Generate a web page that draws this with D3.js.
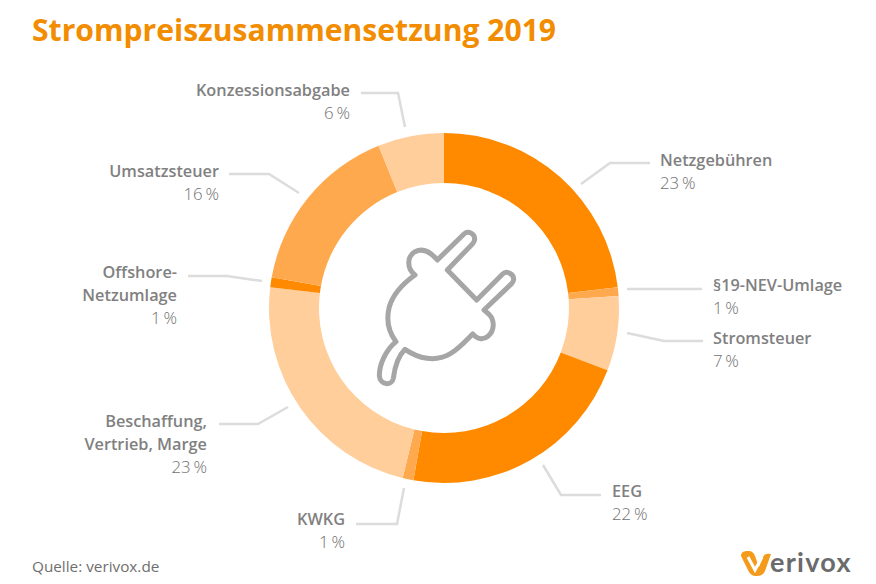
<!DOCTYPE html>
<html lang="de">
<head>
<meta charset="utf-8">
<title>Strompreiszusammensetzung 2019</title>
<script src="https://cdn.jsdelivr.net/npm/d3@7/dist/d3.min.js"></script>
<style>
  html, body { margin: 0; padding: 0; background: #fff; }
  svg { display: block; }
  text { font-family: "Open Sans", sans-serif; }
  .name { font-size: 16.3px; font-weight: 600; fill: #7f7f7f; }
  .share { font-size: 16.8px; font-weight: 300; fill: #6f6f6f; }
</style>
</head>
<body>
<div id="chart"></div>
<script>
// Data
const categories = ["Netzgebühren", "§19-NEV-Umlage", "Stromsteuer", "EEG", "KWKG",
  "Beschaffung, Vertrieb, Marge", "Offshore-Netzumlage", "Umsatzsteuer", "Konzessionsabgabe"];
// printed percentages
const shareLabels = [23, 1, 7, 22, 1, 23, 1, 16, 6];
// slice sizes as measured from the ring, the printed numbers are rounded
const shares = [23.1, 0.8, 6.9, 22, 1, 23.1, 0.9, 16.1, 6.1];
const labelLines = [["Netzgebühren"], ["§19-NEV-Umlage"], ["Stromsteuer"], ["EEG"], ["KWKG"],
  ["Beschaffung,", "Vertrieb, Marge"], ["Offshore-", "Netzumlage"], ["Umsatzsteuer"], ["Konzessionsabgabe"]];

// Layout, by category
const sliceColors = ["#ff8a00", "#ffa94f", "#ffce9b", "#ff8a00", "#ffa94f", "#ffce9b", "#ff8a00", "#ffa94f", "#ffce9b"];
const labelPos = [
  {x: 660, y: 166, anchor: "start"},
  {x: 713, y: 291, anchor: "start"},
  {x: 713, y: 344, anchor: "start"},
  {x: 612, y: 497, anchor: "start"},
  {x: 345, y: 525, anchor: "end"},
  {x: 207, y: 427, anchor: "end"},
  {x: 177, y: 278, anchor: "end"},
  {x: 219, y: 177, anchor: "end"},
  {x: 350, y: 96, anchor: "end"}
];
const leaders = [
  [[581, 184], [610, 163], [650, 163]],
  [[627, 289], [702, 289]],
  [[627, 333], [664, 341], [703, 341]],
  [[543, 465], [561, 495], [601, 495]],
  [[404, 488], [397, 524], [356, 524]],
  [[288, 407], [258, 424], [219, 424]],
  [[262, 281], [227, 276], [188, 276]],
  [[299, 193], [269, 174], [229, 174]],
  [[405, 127], [398, 93], [361, 93]]
];

const width = 876;
const height = 584;
const cx = 444;
const cy = 308;

const svg = d3.select("#chart")
  .append("svg")
  .attr("width", width)
  .attr("height", height);

// Title and source
svg.append("text")
  .attr("x", 32)
  .attr("y", 41)
  .attr("font-size", 30.1)
  .attr("font-weight", 700)
  .attr("fill", "#f28c00")
  .text("Strompreiszusammensetzung 2019");

svg.append("text")
  .attr("x", 32)
  .attr("y", 572)
  .attr("font-size", 15.3)
  .attr("fill", "#6e6e6e")
  .attr("opacity", 0.99)
  .text("Quelle: verivox.de");

// Donut
const pie = d3.pie().sort(null).value(d => d);
const arc = d3.arc().innerRadius(125).outerRadius(175);
const color = d3.scaleOrdinal().domain(categories).range(sliceColors);

svg.append("g")
  .attr("transform", `translate(${cx},${cy})`)
  .selectAll("path")
  .data(pie(shares))
  .enter()
  .append("path")
  .attr("d", arc)
  .attr("fill", (d, i) => color(categories[i]));

// Leader lines
const line = d3.line();
svg.append("g")
  .selectAll("path")
  .data(leaders)
  .enter()
  .append("path")
  .attr("d", d => line(d))
  .attr("fill", "none")
  .attr("stroke", "#dcdcdc")
  .attr("stroke-width", 2.5);

// Labels, the opacity keeps the thin text from colour fringing
const lineStep = 23;
labelLines.forEach((lines, i) => {
  const g = svg.append("g").attr("opacity", 0.99);
  const pos = labelPos[i];
  lines.forEach((t, k) => {
    g.append("text")
      .attr("class", "name")
      .attr("x", pos.x)
      .attr("y", pos.y + k * lineStep)
      .attr("text-anchor", pos.anchor)
      .text(t);
  });
  g.append("text")
    .attr("class", "share")
    .attr("x", pos.x)
    .attr("y", pos.y + lines.length * lineStep)
    .attr("text-anchor", pos.anchor)
    .text(shareLabels[i] + "\u2009%");
});

// Plug icon, drawn in the 3x space of the crop it was traced from
svg.append("path")
  .attr("transform", "translate(360,210) scale(0.3333)")
  .attr("d", "M232,150 L312,72 C325,60 345,72 344,88 C344,93 342,97 338,101 L262,180 L350,270 "
    + "L428,192 C440,180 462,192 461,208 C461,213 459,217 455,221 L372,300 L388,314 "
    + "C405,332 403,362 385,378 C368,392 350,386 338,372 C320,390 298,415 270,432 "
    + "C225,458 175,445 135,418 C118,435 105,465 100,505 C96,528 60,527 58,497 "
    + "C58,462 78,420 108,395 C85,365 78,330 88,290 C100,250 130,220 165,195 "
    + "C140,175 140,140 165,125 C190,112 215,130 232,150 Z")
  .attr("fill", "none")
  .attr("stroke", "#a6a6a6")
  .attr("stroke-width", 15)
  .attr("stroke-linejoin", "round");

// Logo
const logo = svg.append("g").attr("transform", "translate(741,552)");
logo.append("path")
  .attr("d", "M0,4 C0,0 3,-1 7,-1 C11,-1 13,1 14,4 L18,15 L22,5 C23,2 26,1 30,2 L24,19 C22,23 20,24 16,24 C11,24 9,22 7,18 Z")
  .attr("fill", "#f49b1c");
logo.append("path")
  .attr("d", "M7,5 L14,18 L21,5")
  .attr("fill", "none")
  .attr("stroke", "#fff")
  .attr("stroke-width", 3);
svg.append("text")
  .attr("x", 770)
  .attr("y", 572)
  .attr("font-size", 27)
  .attr("font-weight", 700)
  .attr("fill", "#6b6b6b")
  .attr("letter-spacing", 1.3)
  .style("font-family", "Lato, sans-serif")
  .text("erivox");
</script>
</body>
</html>
